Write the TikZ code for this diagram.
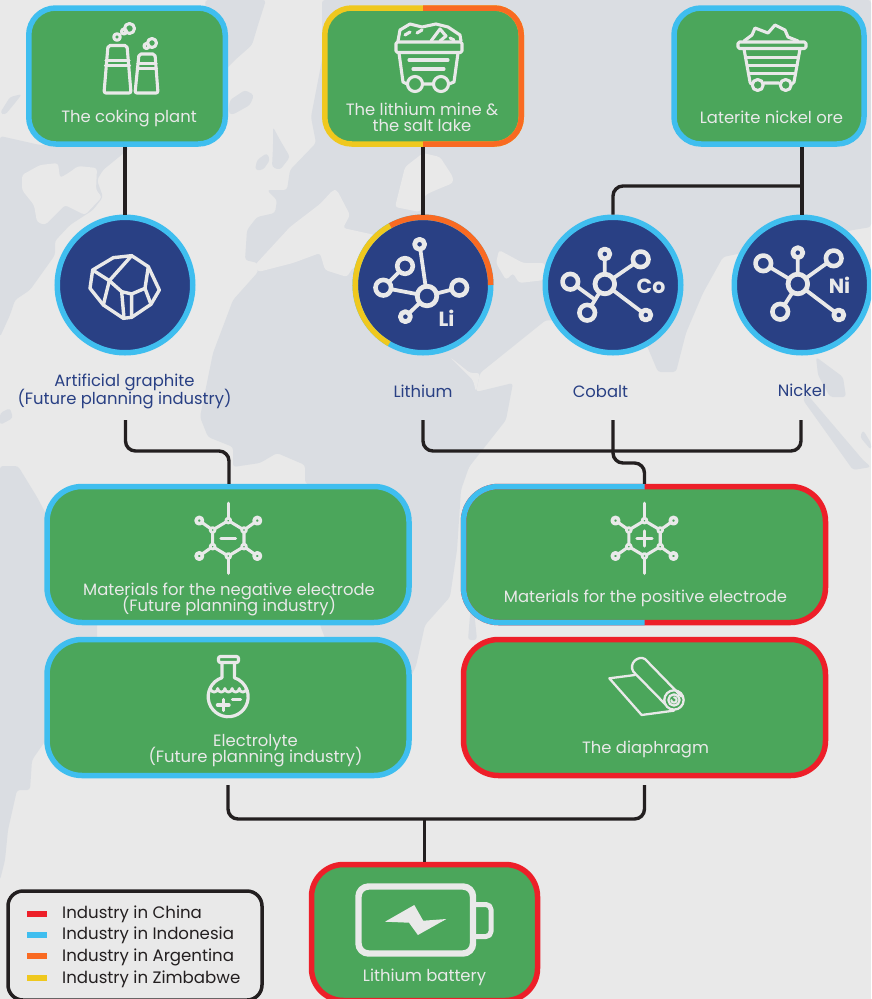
\documentclass[tikz,border=0pt]{standalone}
\usepackage{fontspec}
\setmainfont{Poppins}
\lineskiplimit=-100pt
\normallineskiplimit=-100pt
\definecolor{seac}{HTML}{E9E9E9}
\definecolor{landc}{HTML}{DADDE2}
\definecolor{boxgreen}{HTML}{4BA65B}
\definecolor{indo}{HTML}{3FBEEF}
\definecolor{china}{HTML}{ED1F29}
\definecolor{argen}{HTML}{F96A22}
\definecolor{zimb}{HTML}{EFC81E}
\definecolor{navy}{HTML}{294084}
\definecolor{inkc}{HTML}{231F20}
\definecolor{iconc}{HTML}{E9E9E9}
\tikzset{
  land/.style={fill=landc,rounded corners=3pt},
  sea/.style={fill=seac,rounded corners=3pt},
  tbox/.style={draw=#1,line width=5.5pt,fill=boxgreen,rounded corners=27pt,inner sep=0pt},
  wbox/.style={draw=#1,line width=5.5pt,fill=boxgreen,rounded corners=35pt,inner sep=0pt},
  disc/.style={circle,draw=#1,line width=5.5pt,fill=navy,inner sep=0pt,minimum size=135.5pt},
  conn/.style={draw=inkc,line width=3.4pt},
  icon/.style={draw=iconc,line width=3.1pt,line join=round,line cap=round},
  lbl/.style={text=iconc,font=\fontsize{16.4}{16}\selectfont,align=center,inner sep=0pt},
  nlbl/.style={text=navy,font=\fontsize{16.4}{18}\selectfont,align=center,inner sep=0pt},
  leg/.style={text=inkc,font=\fontsize{16.6}{16}\selectfont,anchor=west,inner sep=0pt},
  el/.style={text=iconc,font=\fontsize{20.5}{20}\selectfont\bfseries,inner sep=0pt},
}
\newcommand{\bigring}[2]{\draw[icon,line width=4.6pt,fill=navy] (#1,#2) circle (7.8);}
\newcommand{\tinyring}[2]{\draw[icon,line width=4.8pt,fill=navy] (#1,#2) circle (5);}
\newcommand{\hubring}[2]{\draw[icon,line width=4.8pt,fill=navy] (#1,#2) circle (9.8);}
\newcommand{\hexicon}[2]{%
  \begin{scope}[shift={(#1,#2)}]
    \draw[icon,line width=3.4pt] (0,-35)--(0,35);
    \path[fill=boxgreen] (0,-15)--(13.5,-7)--(13.5,7)--(0,15)--(-13.5,7)--(-13.5,-7)--cycle;
    \draw[icon] (0,-17.7)--(15.7,-8.3)--(15.7,8.3)--(0,17.7)--(-15.7,8.3)--(-15.7,-8.3)--cycle;
    \foreach \a/\b in {1/1,1/-1,-1/1,-1/-1}{
      \draw[icon] (15.7*\a,8.3*\b)--(29*\a,17.7*\b);
      \draw[icon,line width=3.6pt,fill=boxgreen] (29*\a,17.7*\b) circle (3.2);
      \draw[icon,line width=2.8pt,fill=boxgreen] (15.7*\a,8.3*\b) circle (2.4);
    }
    \foreach \b in {1,-1}{\draw[icon,line width=2.8pt,fill=boxgreen] (0,17.7*\b) circle (2.4);}
  \end{scope}}
\begin{document}
\begin{tikzpicture}[x=1pt,y=-1pt]
\useasboundingbox (0,0) rectangle (871,999);
\clip (0,0) rectangle (871,999);
\fill[seac] (0,0) rectangle (871,999);
% --- map
\path[land] (322,0)--(871,0)--(871,227)--(853,230)--(723,257)--(703,293)--(686,333)--(676,372)--(658,372)--(650,353)--(643,337)--(600,325)--(546,320)--(480,373)--(476,392)--(513,383)--(506,420)--(469,467)--(461,490)--(457,550)--(450,597)--(425,625)--(416,666)--(390,720)--(345,690)--(320,625)--(320,490)--(305,483)--(305,465)--(277,453)--(260,463)--(233,467)--(233,447)--(208,437)--(200,417)--(213,353)--(233,300)--(258,272)--(258,263)--(245,260)--(247,230)--(257,217)--(275,213)--(277,200)--(267,190)--(287,190)--(290,170)--(316,143)--(311,117)--(322,60)--cycle;
\path[sea] (255,265)--(290,227)--(320,204)--(333,190)--(337,190)--(350,215)--(343,228)--(375,235)--(375,280)--(353,267)--(347,277)--(325,270)--(320,253)--(293,263)--(258,272)--cycle;
\path[sea] (395,207)--(405,167)--(423,153)--(440,157)--(453,177)--(453,183)--(436,190)--(425,195)--(420,212)--cycle;
\path[sea] (499,250)--(523,263)--(545,263)--(545,280)--(519,283)--(513,273)--(506,280)--(496,263)--cycle;
\path[sea] (450,357)--(473,380)--(476,392)--(480,373)--(470,373)--cycle;
% North America
\path[land] (0,136)--(40,145)--(100,145)--(130,148)--(103,170)--(97,180)--(103,197)--(93,210)--(70,225)--(55,241)--(55,255)--(30,290)--(15,300)--(10,315)--(0,337)--cycle;
\path[sea] (22,175)--(40,165)--(58,163)--(60,178)--(70,172)--(78,166)--(97,168)--(96,190)--(102,197)--(85,215)--(65,205)--(45,225)--(37,222)--(34,205)--(22,190)--cycle;
\path[land] (0,113)--(10,97)--(22,94)--(15,103)--(5,115)--cycle;
% Greenland and islands
\path[land] (205,0)--(266,0)--(258,25)--(252,45)--(235,60)--(225,70)--(210,60)--cycle;
\path[land] (230,100)--(245,90)--(254,95)--(250,105)--(232,115)--(228,112)--cycle;
\path[land] (273,127)--(280,140)--(290,157)--(280,170)--(272,167)--(273,147)--cycle;
\path[land] (257,160)--(267,153)--(270,160)--(263,170)--(255,170)--cycle;
\path[land] (0,413)--(10,408)--(13,418)--(0,425)--cycle;
% South America, Madagascar, South-East Asia
\path[land] (0,466)--(18,466)--(37,497)--(60,540)--(97,600)--(97,640)--(60,720)--(32,760)--(30,790)--(17,790)--(8,830)--(5,860)--(0,880)--cycle;
\path[land] (473,600)--(477,640)--(468,640)--(470,615)--cycle;
\path[land] (816,357)--(843,377)--(846,397)--(830,397)--(818,375)--cycle;
\path[land] (806,393)--(863,460)--(871,467)--(853,470)--(803,400)--cycle;
\path[land] (863,430)--(871,443)--(871,450)--(860,437)--cycle;
% --- boxes
\node[tbox=indo,minimum width=196.5pt,minimum height=136pt] (coke) at (127,76) {};
\node[tbox=zimb,minimum width=196.5pt,minimum height=136pt] (mine) at (423,76) {};
\begin{scope}
  \clip (423,0) rectangle (540,160);
  \draw[draw=argen,line width=5.5pt,rounded corners=27pt] (324.75,8)rectangle(521.25,144);
\end{scope}
\node[tbox=indo,minimum width=190pt,minimum height=136pt] (ore) at (769,76) {};
\node[wbox=indo,minimum width=362pt,minimum height=136pt] (neg) at (228,554.5) {};
\node[wbox=indo,minimum width=362pt,minimum height=136pt] (ely) at (228,707.5) {};
\node[wbox=china,minimum width=362pt,minimum height=136pt] (pos) at (644.5,554.5) {};
\begin{scope}
  \clip (440,470) rectangle (644.5,640);
  \draw[draw=indo,line width=5.5pt,rounded corners=35pt] (463.5,486.5)rectangle(825.5,622.5);
\end{scope}
\node[wbox=china,minimum width=362pt,minimum height=136pt] (dia) at (644.5,707.5) {};
\node[wbox=china,minimum width=226pt,minimum height=136pt,rounded corners=32pt] (batt) at (424.5,932.5) {};
% --- discs
\node[disc=indo] (graph) at (125,285) {};
\node[disc=indo] (li) at (423,285) {};
\draw[argen,line width=5.5pt] (423,285)++(0:67.75) arc[start angle=0,end angle=-119,radius=67.75];
\draw[zimb,line width=5.5pt] (423,285)++(-119:67.75) arc[start angle=-119,end angle=-240,radius=67.75];
\node[disc=indo] (co) at (613,285) {};
\node[disc=indo] (ni) at (802,285) {};
% --- free ends of connectors
\coordinate (gU) at (125.5,420);
\coordinate (gJ) at (229,451);
\coordinate (lU) at (423,420);
\coordinate (lM) at (613,451);
\coordinate (nU) at (801,420);
\coordinate (cU) at (613,420);
\coordinate (cJ) at (644.5,463);
\coordinate (oJ) at (802,186);
\coordinate (eU) at (228,785);
\coordinate (dU) at (644.5,785);
\coordinate (bM) at (424.5,819);
% --- connectors
\draw[conn] (coke.south -| graph.north) -- (graph.north);
\draw[conn] (mine.south) -- (li.north);
\draw[conn] (ore.south -| ni.north) -- (ni.north);
\draw[conn,rounded corners=10pt] (oJ) -| (co.north);
\draw[conn,rounded corners=10pt] (gU) |- (gJ) -- (gJ |- neg.north);
\draw[conn,rounded corners=10pt] (lU) |- (lM) -| (nU);
\draw[conn,rounded corners=10pt] (cU) |- (cJ) -- (pos.north);
\draw[conn,rounded corners=10pt] (eU) |- (bM) -| (dU);
\draw[conn] (bM) -- (batt.north);
% --- texts
\node[lbl] (tcoke) at (129,118.5) {The coking plant};
\node[lbl] (tmine) at (422,117) {The lithium mine \&\\the salt lake};
\node[lbl] (tore) at (771.5,117) {Laterite nickel ore};
\node[nlbl] (tgraph) at (124.5,391) {Artificial graphite\\(Future planning industry)};
\node[nlbl] (tli) at (423,391) {Lithium};
\node[nlbl] (tco) at (600.5,391) {Cobalt};
\node[nlbl] (tni) at (802,390) {Nickel};
\node[lbl] (tneg) at (229,599.5) {Materials for the negative electrode\\(Future planning industry)};
\node[lbl] (tpos) at (645.5,598.5) {Materials for the positive electrode};
\node[lbl] (tely) at (255.5,750.5) {Electrolyte\\(Future planning industry)};
\node[lbl] (tdia) at (645.5,749.5) {The diaphragm};
\node[lbl] (tbatt) at (424.5,977.5) {Lithium battery};
% --- coking plant icon
\draw[icon,rounded corners=2pt] (104,93)--(131,93)--(127,45.5)--(108,45.5)--cycle;
\draw[icon] (106,60.5)--(129,60.5) (105.5,65.5)--(129.5,65.5);
\draw[icon,rounded corners=2pt] (135,93)--(158,93)--(155,54)--(139,54)--cycle;
\draw[icon] (138,63.5)--(156,63.5) (137.5,68.5)--(156.5,68.5);
\draw[icon] (117,37) circle (3.3) (129.5,28.5) circle (5) (124,31.5) circle (2.5) (152,43) circle (4.5) (146.5,46) circle (2.5);
% --- mine cart 1
\draw[icon,rounded corners=1.5pt] (396,42)--(462,42)--(462,52.5)--(396,52.5)--cycle;
\draw[icon] (399,53)--(403,82)--(407,84) (423,84)--(433,84) (449,84)--(454,82)--(458,53);
\draw[icon] (409,60)--(448,60) (413,69)--(444,69);
\draw[icon] (415,84) circle (7.5) (441,84) circle (7.5);
\draw[icon] (398,41)--(400,30)--(410,24)--(422,27)--(436,24)--(448,27)--(460,35)--(461,41);
\draw[icon] (405,35)--(410,32) (417,33)--(422,30) (431,41)--(440,29)--(446,36)--(440,41) (450,38)--(454,40);
% --- mine cart 2
\draw[icon,rounded corners=1.5pt] (738,42)--(806,42)--(806,48.5)--(738,48.5)--cycle;
\draw[icon] (744,49)--(750,82)--(751,84) (764,83)--(779,83) (792,84)--(794,82)--(800,49);
\draw[icon] (746,57.5)--(798,57.5) (748,65.5)--(797,65.5) (749.5,73.5)--(795.5,73.5);
\draw[icon] (757.7,85) circle (5.5) (785.7,85) circle (5.5);
\draw[icon] (744,41)--(752,35)--(755,28)--(768,33)--(775,25)--(785,30)--(788,37)--(798,41);
% --- graphite icon
\begin{scope}[shift={(50,210)},x=.3333pt,y=-.3333pt]
  \draw[icon,line width=3.4pt] (128,180)--(190,143)--(245,137)--(295,170)--(328,240)--(303,283)--(245,322)--(220,325)--(160,285)--(120,235)--cycle;
  \draw[icon,line width=3.4pt] (128,180)--(178,212)--(245,137) (178,212)--(215,245)--(245,252)--(285,235)--(295,170) (285,235)--(303,283) (178,212)--(160,285) (215,245)--(222,325) (245,252)--(245,320);
\end{scope}
% --- lithium molecule
\draw[icon,line width=3.8pt] (427,296)--(419.6,244.3) (427,296)--(383.3,287.7) (427,296)--(459.2,287.7) (427,296)--(405.4,316.7) (405,266)--(383.3,287.7);
\tinyring{419.6}{244.3}\bigring{405}{266}\bigring{383.3}{287.7}\bigring{459.2}{287.7}\tinyring{405.4}{316.7}\hubring{427}{296}
\node[el] (tLi) at (446.5,318) {Li};
% --- cobalt molecule
\draw[icon,line width=3.8pt] (604.8,284)--(604.8,254) (604.8,284)--(640.7,259.3) (570.3,281.7)--(594,299) (604.8,284)--(587.2,312.7) (604.8,284)--(645.8,315);
\tinyring{604.8}{254}\bigring{640.7}{259.3}\bigring{570.3}{281.7}\bigring{587.2}{312.7}\tinyring{645.8}{315}\hubring{604.8}{284}
\node[el] (tCo) at (651,286) {Co};
% --- nickel molecule
\draw[icon,line width=3.8pt] (797.8,284)--(797.8,252.7) (797.8,284)--(833.7,258.3) (797.8,284)--(763.3,263.3) (797.8,284)--(780.2,311.7) (797.8,284)--(838.8,315);
\tinyring{797.8}{252.7}\bigring{833.7}{258.3}\bigring{763.3}{263.3}\bigring{780.2}{311.7}\tinyring{838.8}{315}\hubring{797.8}{284}
\node[el] (tNi) at (839.5,285) {Ni};
% --- electrode icons
\hexicon{228.3}{538.3}
\draw[icon,line width=3.4pt] (221,538.3)--(235.5,538.3);
\hexicon{644.5}{538.3}
\draw[icon,line width=3.4pt] (637,538.3)--(652,538.3) (644.5,531)--(644.5,546);
% --- flask
\draw[icon,line width=3.2pt] (222,662.5)--(222,677.7) arc[start angle=-108,end angle=-432,radius=20] -- (234.6,662.5);
\draw[icon,line width=3.2pt,rounded corners=2pt] (218.5,656.5) rectangle (238.5,662.5);
\draw[icon,line width=2.8pt] (210.5,688.5) arc[start angle=180,end angle=0,radius=3.6] arc[start angle=180,end angle=0,radius=3.6] arc[start angle=180,end angle=0,radius=3.6] arc[start angle=180,end angle=0,radius=3.6] arc[start angle=180,end angle=0,radius=3.6];
\draw[icon,line width=3.4pt] (217.5,705)--(229,705) (223.3,699.5)--(223.3,710.5) (232.5,699.3)--(240.5,699.3);
% --- separator roll
\begin{scope}[shift={(450,480)},x=.3333pt,y=-.3333pt]
  \draw[icon,line width=2.3pt] (555,585)--(478,595)--(575,705)--(672,692);
  \draw[icon,line width=2.3pt] (695,650)--(585,537) .. controls (565,525) and (535,550) .. (550,575)--(648,675);
  \draw[icon,line width=2.3pt] (672,660) circle (29);
  \draw[icon,line width=2.3pt] (672,660) circle (17);
  \draw[icon,line width=2pt] (664,660) arc[start angle=180,end angle=-90,radius=8];
\end{scope}
% --- battery
\draw[icon,line width=6.4pt,rounded corners=10pt] (358.5,886.5) rectangle (473,953.5);
\draw[icon,line width=5pt,line cap=butt,rounded corners=5pt] (476,904.5)--(491,904.5)--(491,936.5)--(476,936.5);
\fill[iconc] (385,921.7)--(414.3,905)--(423.2,920.7)--(446.4,919)--(417.9,935)--(409,922.7)--cycle;
% --- legend
\node[draw=inkc,line width=3.5pt,rounded corners=15pt,minimum width=254pt,minimum height=109pt,inner sep=0pt] (legend) at (135,945.5) {};
\fill[china] (27,911) rectangle (47,917);
\fill[indo] (27,932) rectangle (47,938);
\fill[argen] (27,953) rectangle (47,959);
\fill[zimb] (27,975) rectangle (47,981);
\node[leg] (lc) at (62,914) {Industry in China};
\node[leg] (li2) at (62,935) {Industry in Indonesia};
\node[leg] (la) at (62,957) {Industry in Argentina};
\node[leg] (lz) at (62,979) {Industry in Zimbabwe};
\end{tikzpicture}
\end{document}
